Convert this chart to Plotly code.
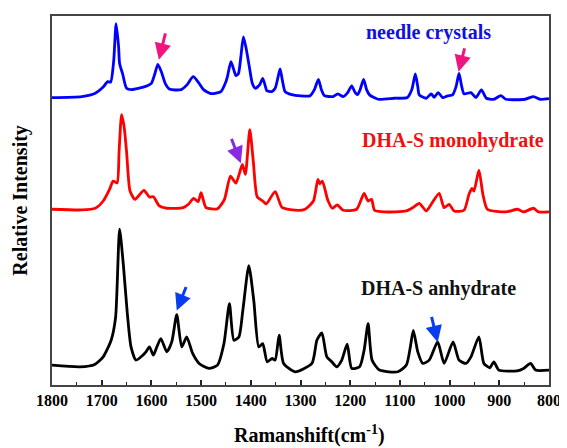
import plotly.graph_objects as go

# ---- data (intensities are offset-stacked, arbitrary units) ----
needle_wn = [1800, 1740, 1713, 1698, 1688, 1682, 1676, 1671, 1666, 1664, 1658, 1650, 1640, 1613, 1600,
             1593, 1587, 1580, 1572, 1563, 1540, 1528, 1516, 1505, 1495, 1480, 1460, 1450, 1447, 1440,
             1433, 1430, 1425, 1420, 1415, 1410, 1403, 1397, 1391, 1382, 1376, 1370, 1368, 1358, 1351,
             1345, 1341, 1336, 1331, 1318, 1281, 1272, 1264, 1258, 1252, 1234, 1225, 1214, 1205, 1197,
             1190, 1185, 1180, 1173, 1167, 1161, 1144, 1111, 1085, 1076, 1069, 1064, 1061, 1047, 1037,
             1031, 1023, 1014, 1004, 994, 987, 981, 976, 971, 957, 947, 936, 926, 911, 897, 887, 848,
             831, 818, 800]
needle_int = [289, 290, 293.3, 299, 305, 304.5, 325, 363.3, 340, 323.3, 313, 298.3, 297, 300, 303.3,
              313, 322.3, 315, 303, 297.3, 297, 302, 310, 304, 297, 293, 295, 305, 310, 325,
              315, 311, 313, 330, 350, 340, 320, 303.3, 298.3, 302, 308.3, 299, 296, 295, 298.3,
              310, 317.7, 305, 295, 292, 290.7, 297, 307.3, 297, 291, 290, 292.7, 290, 294, 300.7,
              294, 292, 297, 307.3, 297, 291.7, 287.3, 288.3, 289, 297, 312.7, 300, 291.7, 288.3, 292.7,
              289.3, 294, 289, 290.7, 291.7, 300, 313.3, 301, 292.7, 294, 289, 296.7, 288.3, 287.3, 291, 287.3, 287.3,
              290, 287.3, 288]

mono_wn = [1800, 1740, 1713, 1697, 1684, 1677, 1669, 1665, 1660, 1655, 1650, 1643, 1633, 1615, 1604,
           1596, 1584, 1569, 1536, 1525, 1515, 1506, 1500, 1490, 1467, 1453, 1441, 1430, 1417, 1411,
           1402, 1395, 1387, 1376, 1369, 1351, 1337, 1304, 1291, 1274, 1265, 1261, 1256, 1245, 1236,
           1226, 1214, 1187, 1172, 1164, 1157, 1151, 1131, 1087, 1074, 1061, 1047, 1037, 1021, 1011,
           1001, 991, 971, 961, 955, 951, 941, 933, 924, 887, 863, 851, 831, 821, 800]
mono_int = [176.7, 176, 177.7, 185, 197, 205, 203.3, 235, 271.7, 260, 235, 195, 186.7, 195.7, 189,
            189.3, 180, 177.7, 178.3, 182, 187.7, 184.3, 193.3, 178.3, 177.3, 186.7, 210, 203, 221.7, 211.7,
            256.7, 225, 189, 185, 182, 194.5, 178.5, 175.5, 176.7, 185, 206.7, 202.3, 205, 185.7, 177.7,
            181, 175.7, 176.7, 192.7, 185, 186.7, 175.7, 174, 175, 178.3, 182.7, 175, 181.7, 192.7, 178.3,
            181.7, 175, 175.7, 191.7, 197.7, 195, 216, 191.7, 176.7, 174, 176.7, 174, 177.7, 174, 174]

anhy_wn = [1800, 1744, 1714, 1697, 1681, 1672, 1664, 1656, 1649, 1641, 1631, 1617, 1611, 1604, 1596,
           1589, 1581, 1569, 1559, 1549, 1539, 1529, 1517, 1504, 1484, 1467, 1454, 1443, 1434, 1424,
           1416, 1404, 1394, 1384, 1376, 1367, 1357, 1351, 1343, 1334, 1311, 1277, 1267, 1257, 1247,
           1237, 1227, 1217, 1206, 1197, 1181, 1172, 1164, 1156, 1141, 1104, 1087, 1079, 1073, 1064,
           1054, 1041, 1024, 1011, 993, 981, 967, 957, 941, 931, 919, 911, 901, 864, 851, 837, 827, 800]
anhy_int = [20, 18.3, 20.7, 28.3, 45, 68.3, 156.7, 118.3, 75, 38.3, 25, 30, 33.3, 38.3, 30,
            38.3, 46.7, 33.3, 43.3, 70.7, 38.3, 48.3, 31.7, 21.7, 16.7, 20, 41.7, 81.7, 45, 48.3,
            75, 120, 85, 38.3, 41.7, 23.3, 26.7, 25, 50, 21.7, 13.3, 21.7, 45, 52.3, 28.3,
            23.3, 18.3, 25, 41, 16.7, 18.3, 35, 61.7, 25, 15, 13.3, 20, 38.3, 55, 33.3,
            21.7, 25, 43.3, 21.7, 43.3, 25, 21.7, 28.3, 48.3, 21.7, 17.3, 23.3, 15, 14.3, 16.7, 21.7, 15, 15]

series_names = ["needle crystals", "DHA-S monohydrate", "DHA-S anhydrate"]
series_colors = ["#0000FF", "#FF0000", "#000000"]

# arrow (head_wn, head_int, tail_wn, tail_int, color)
arrows = [
    (1585, 327, 1571, 355, "#F0147F"),
    (982, 315, 969, 340, "#F0147F"),
    (1420, 223, 1440, 249, "#8A2BE2"),
    (1549, 75, 1529, 100, "#0A3CF0"),
    (1024, 43, 1037, 70, "#0A3CF0"),
]

# label positions (wn, int)
label_pos = [(1042, 354), (993, 246), (1023, 97)]
label_colors = ["#1010E0", "#F01010", "#111111"]

FONT = "Liberation Serif, Times New Roman, serif"

fig = go.Figure()
for wn, inten, name, col in [(needle_wn, needle_int, series_names[0], series_colors[0]),
                             (mono_wn, mono_int, series_names[1], series_colors[1]),
                             (anhy_wn, anhy_int, series_names[2], series_colors[2])]:
    fig.add_trace(go.Scatter(x=wn, y=inten, mode="lines", name=name,
                             line=dict(color=col, width=2.8, shape="spline", smoothing=0.6),
                             showlegend=False))

annotations = []
for hx, hy, tx, ty, col in arrows:
    annotations.append(dict(x=hx, y=hy, ax=tx, ay=ty, xref="x", yref="y", axref="x", ayref="y",
                            showarrow=True, arrowhead=2, arrowsize=1.1, arrowwidth=3,
                            arrowcolor=col, standoff=0, text=""))
for (lx, ly), name, col in zip(label_pos, series_names, label_colors):
    annotations.append(dict(x=lx, y=ly, xref="x", yref="y", text="<b>%s</b>" % name,
                            showarrow=False, font=dict(family=FONT, size=20, color=col)))
annotations.append(dict(x=0.518, y=-0.133, xref="paper", yref="paper",
                        text="<b>Ramanshift(cm<sup>-1</sup>)</b>", showarrow=False,
                        xanchor="center", yanchor="middle",
                        font=dict(family=FONT, size=20, color="#000000")))
annotations.append(dict(x=-0.064, y=0.5, xref="paper", yref="paper",
                        text="<b>Relative Intensity</b>", showarrow=False, textangle=-90,
                        xanchor="center", yanchor="middle",
                        font=dict(family=FONT, size=20, color="#000000")))

# The page body has an 8px default margin, so the figure is sized/offset to compensate.
fig.update_layout(
    width=559, height=440,
    margin=dict(l=44, r=15, t=6, b=63),
    paper_bgcolor="#FFFFFF", plot_bgcolor="#FFFFFF",
    annotations=annotations,
)
fig.update_xaxes(range=[1800, 800], tickmode="linear", tick0=800, dtick=100,
                 ticks="inside", ticklen=5, tickwidth=1.5, tickcolor="#222",
                 minor=dict(dtick=50, ticks="inside", ticklen=3, tickwidth=1.2, tickcolor="#222"),
                 showgrid=False, zeroline=False, showline=True, mirror=True,
                 linecolor="#444", linewidth=1.5,
                 tickfont=dict(family=FONT, size=16, color="#000000"),
                 tickprefix="<b>", ticksuffix="</b>")
fig.update_yaxes(range=[0, 371], showticklabels=False, ticks="", showgrid=False, zeroline=False,
                 showline=True, mirror=True, linecolor="#444", linewidth=1.5)

fig.write_html("out.html", config={"displayModeBar": False})
